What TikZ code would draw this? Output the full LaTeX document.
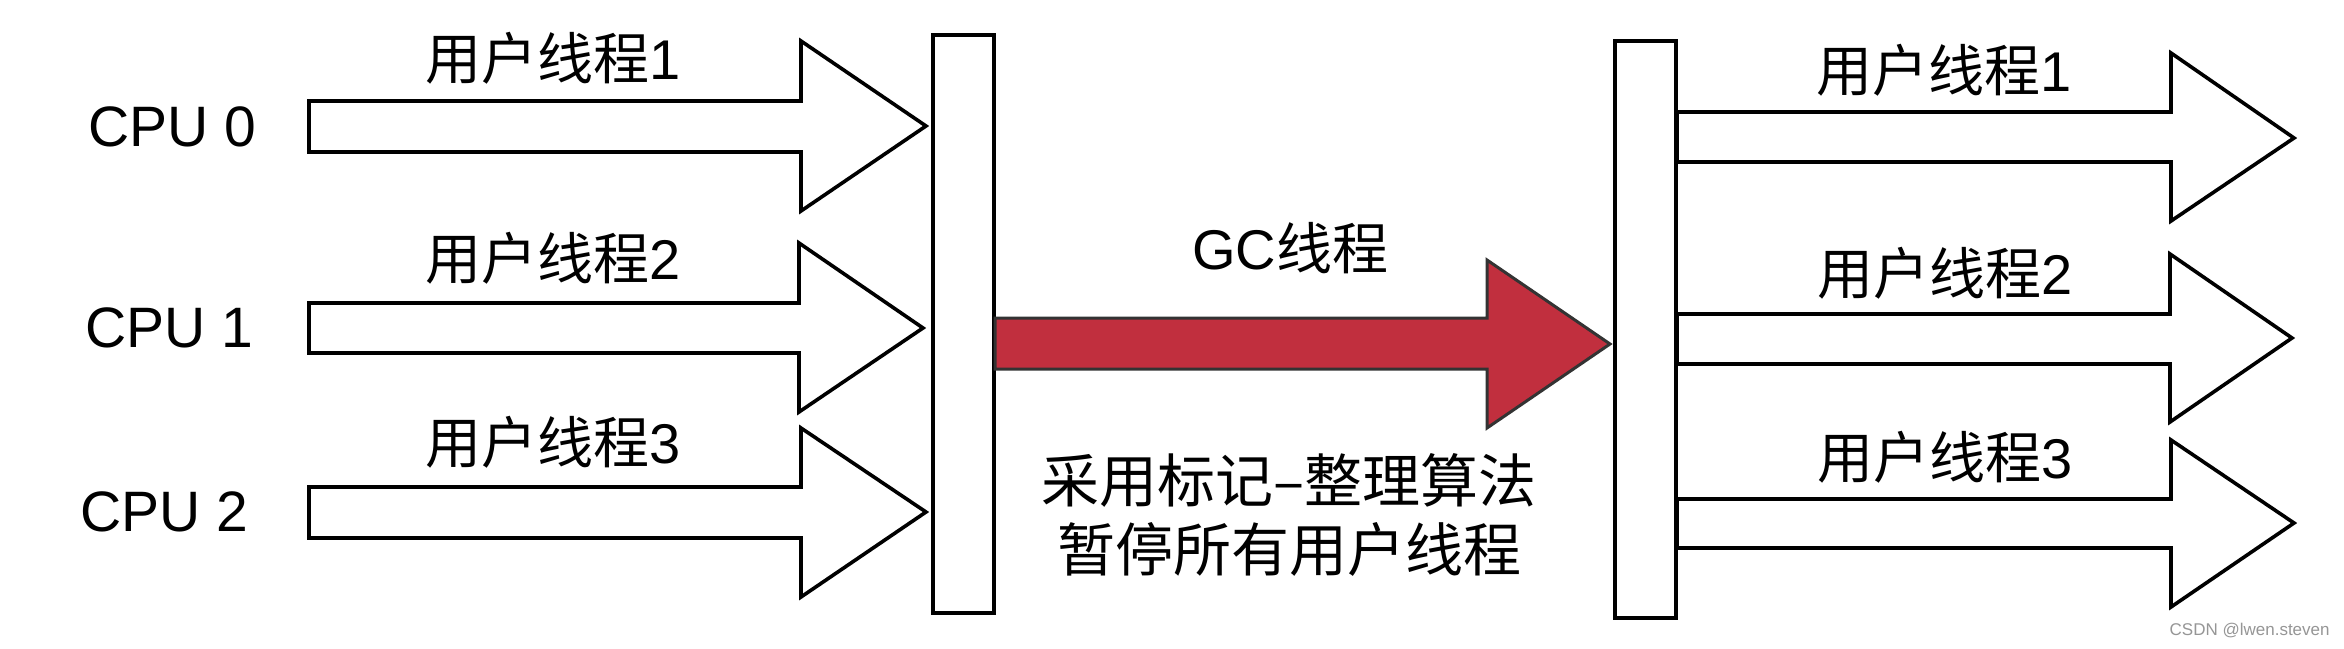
\documentclass[tikz,border=0pt]{standalone}
\usepackage{fontspec}
\setmainfont{Liberation Sans}
\newfontfamily\cjk{Noto Sans CJK SC}
\definecolor{gcred}{RGB}{193,47,62}
\definecolor{wmgray}{RGB}{150,150,150}
\tikzset{
  blockarrow/.style={draw=black, line width=1.8pt, fill=white, line join=miter},
  gcarrow/.style={draw=black!80, line width=1.5pt, fill=gcred, line join=miter},
  barbox/.style={draw=black, line width=1.8pt, fill=white},
  lbl/.style={font=\fontsize{28}{32}\selectfont, inner sep=0pt},
  cpulbl/.style={font=\fontsize{28.5}{32}\selectfont, inner sep=0pt},
}
\begin{document}
\begin{tikzpicture}[x=0.5pt,y=-0.5pt]
\useasboundingbox[fill=white] (0,0) rectangle (2344,648);
% bars
\node[barbox, minimum width=30.5pt, minimum height=289pt, anchor=north west, inner sep=0pt] (barL) at (931,33) {};
\node[barbox, minimum width=30.5pt, minimum height=288.5pt, anchor=north west, inner sep=0pt] (barR) at (1613,39) {};
% left arrows
\draw[blockarrow] (309,101) -- (801,101) -- (801,41) -- (926,126) -- (801,211) -- (801,152) -- (309,152) -- cycle;
\draw[blockarrow] (309,303) -- (799,303) -- (799,243) -- (923,328) -- (799,412) -- (799,353) -- (309,353) -- cycle;
\draw[blockarrow] (309,487) -- (801,487) -- (801,428) -- (926,512) -- (801,597) -- (801,538) -- (309,538) -- cycle;
% GC arrow
\draw[gcarrow] (995,318) -- (1487,318) -- (1487,260) -- (1610,344) -- (1487,428) -- (1487,369) -- (995,369) -- cycle;
% right arrows
\draw[blockarrow] (1677,112) -- (2171,112) -- (2171,53) -- (2294,138) -- (2171,221) -- (2171,162) -- (1677,162) -- cycle;
\draw[blockarrow] (1677,314) -- (2170,314) -- (2170,254) -- (2292,338) -- (2170,422) -- (2170,364) -- (1677,364) -- cycle;
\draw[blockarrow] (1677,499) -- (2171,499) -- (2171,440) -- (2294,523) -- (2171,607) -- (2171,548) -- (1677,548) -- cycle;
% CPU labels
\node[cpulbl] (cpu0) at (172,127) {CPU 0};
\node[cpulbl] (cpu1) at (169,328) {CPU 1};
\node[cpulbl] (cpu2) at (164,512) {CPU 2};
% left thread labels
\node[lbl] (lt1) at (553,58) {{\cjk 用户线程}1};
\node[lbl] (lt2) at (553,258) {{\cjk 用户线程}2};
\node[lbl] (lt3) at (553,442) {{\cjk 用户线程}3};
% right thread labels
\node[lbl] (rt1) at (1944,70) {{\cjk 用户线程}1};
\node[lbl] (rt2) at (1945,273) {{\cjk 用户线程}2};
\node[lbl] (rt3) at (1945,457) {{\cjk 用户线程}3};
% GC labels
\node[lbl] (gc) at (1290,248) {GC{\cjk 线程}};
\node[lbl, font=\fontsize{29}{34.5}\selectfont\cjk, align=center] (note) at (1289,515) {采用标记–整理算法\\暂停所有用户线程};
% watermark
\node[font=\fontsize{8.5}{10}\selectfont, text=wmgray, anchor=east, inner sep=0pt] (wm) at (2330,631) {CSDN @lwen.steven};
\end{tikzpicture}
\end{document}
